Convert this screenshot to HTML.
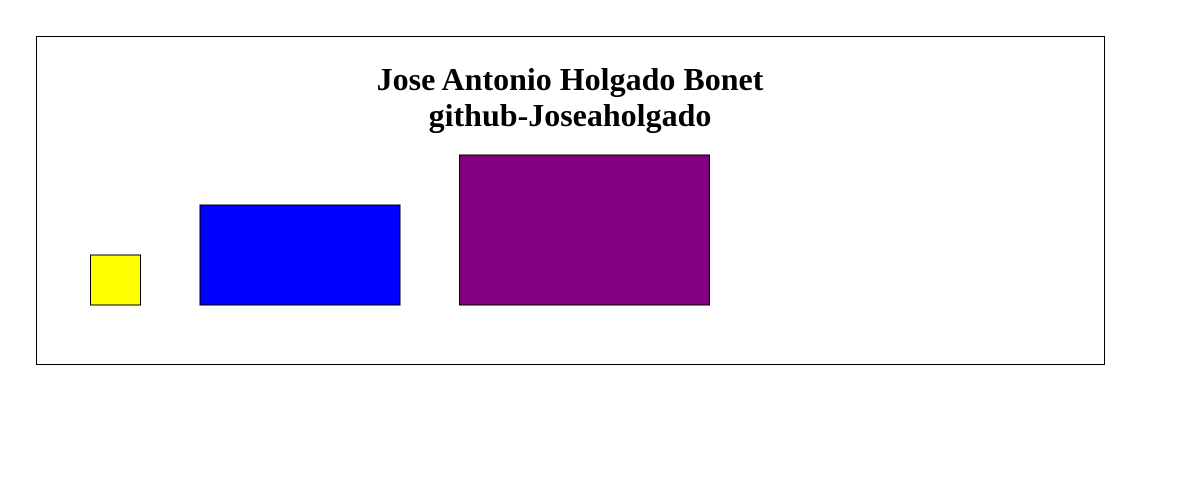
<!DOCTYPE html>
<html><head><meta charset="utf-8"><style>
body{margin:0;background:#fff;width:1186px;height:481px;overflow:hidden}
</style></head><body>
<svg width="1186" height="481">
<rect x="36.5" y="36.5" width="1068" height="328" fill="#fff" stroke="#000" stroke-width="1"/>
<text x="570" y="90" text-anchor="middle" font-family="'Liberation Serif',serif" font-weight="bold" font-size="32">Jose Antonio Holgado Bonet</text>
<text x="570" y="126" text-anchor="middle" font-family="'Liberation Serif',serif" font-weight="bold" font-size="32">github-Joseaholgado</text>
<g id="marks"></g>
</svg>
<script>
const names=['yellow-box','blue-box','purple-box'];
const colors=['yellow','blue','purple'];
const widths=[50,200,250];
const heights=[50,100,150];
const baseY=305, startX=90.5, gap=59.5;
const g=document.getElementById('marks');
let x=startX;
for(let i=0;i<widths.length;i++){
  const r=document.createElementNS('http://www.w3.org/2000/svg','rect');
  r.setAttribute('x',x);r.setAttribute('y',baseY-heights[i]);
  r.setAttribute('width',widths[i]);r.setAttribute('height',heights[i]);
  r.setAttribute('fill',colors[i]);r.setAttribute('stroke','#000');
  
  
  g.appendChild(r);
  x+=widths[i]+gap;
}
</script>
</body></html>
